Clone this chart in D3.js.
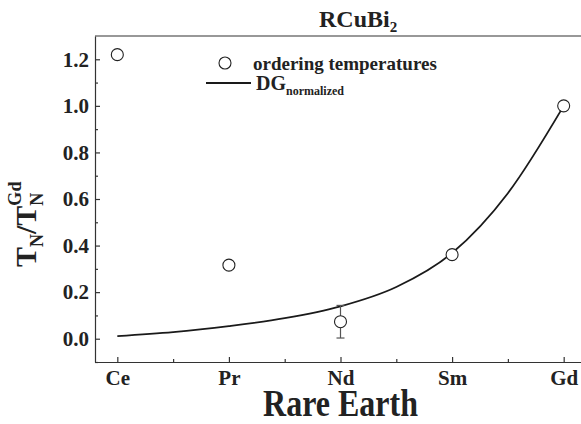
<!DOCTYPE html>
<html>
<head>
<meta charset="utf-8">
<script src="https://cdn.jsdelivr.net/npm/d3@7"></script>
<style>
  body { margin: 0; background: #fff; }
  text { font-family: "Liberation Serif", "Times New Roman", serif; font-weight: bold; fill: #222; }
</style>
</head>
<body>
<svg id="chart" width="581" height="424"></svg>
<script>
const rareEarths = ['Ce', 'Pr', 'Nd', 'Sm', 'Gd'];
const orderingTemps = [1.22, 0.316, 0.073, 0.361, 1.0];
const orderingErrors = [0, 0, 0.07, 0, 0];
const dgIndex = [0, 0.5, 1, 1.5, 2, 2.5, 3, 3.5, 4];
const dgValues = [0.011, 0.028, 0.054, 0.088, 0.139, 0.222, 0.368, 0.625, 1.0];
const yTicks = [0, 0.2, 0.4, 0.6, 0.8, 1.0, 1.2];

const svg = d3.select('#chart');
const axisColor = '#333';

const x = d3.scaleLinear().domain([-0.2, 4.2]).range([95, 586]);
const y = d3.scaleLinear().domain([-0.1, 1.3]).range([362, 36]);

// minor ticks first
svg.append('g')
  .attr('transform', `translate(0,${y.range()[0]})`)
  .call(d3.axisBottom(x).tickValues(d3.range(-0.5, 4.5, 1).filter(d => d > -0.2)).tickSize(-3).tickSizeOuter(0).tickFormat(''))
  .call(g => g.select('.domain').remove());
svg.append('g')
  .attr('transform', `translate(${x.range()[0]},0)`)
  .call(d3.axisLeft(y).tickValues([-0.1, 0.1, 0.3, 0.5, 0.7, 0.9, 1.1]).tickSize(-3).tickSizeOuter(0).tickFormat(''))
  .call(g => g.select('.domain').remove());

const xAxis = svg.append('g')
  .attr('transform', `translate(0,${y.range()[0]})`)
  .call(d3.axisBottom(x).tickValues(d3.range(rareEarths.length)).tickFormat(i => rareEarths[i])
    .tickSize(-5).tickSizeOuter(0).tickPadding(8));
xAxis.selectAll('text').attr('font-size', 21);

const yAxis = svg.append('g')
  .attr('transform', `translate(${x.range()[0]},0)`)
  .call(d3.axisLeft(y).tickValues(yTicks).tickFormat(d3.format('.1f'))
    .tickSize(-5).tickSizeOuter(0).tickPadding(6));
yAxis.selectAll('text').attr('font-size', 21);

svg.selectAll('.tick line, .domain').attr('stroke', axisColor).attr('stroke-width', 1.2);
svg.selectAll('.tick text').attr('fill', '#222').style('font-family', '"Liberation Serif", serif');

// top frame line
svg.append('line')
  .attr('x1', x.range()[0]).attr('x2', x.range()[1])
  .attr('y1', y.range()[1]).attr('y2', y.range()[1])
  .attr('stroke', axisColor).attr('stroke-width', 1.2);

// DG curve
const line = d3.line()
  .x((d, i) => x(dgIndex[i]))
  .y(d => y(d))
  .curve(d3.curveMonotoneX);
svg.append('path')
  .datum(dgValues)
  .attr('d', line)
  .attr('fill', 'none')
  .attr('stroke', '#1a1a1a')
  .attr('stroke-width', 1.8);

// error bars
const errG = svg.append('g').attr('stroke', '#555').attr('stroke-width', 1.2);
orderingTemps.forEach((v, i) => {
  const e = orderingErrors[i];
  if (!e) return;
  const cx = x(i);
  errG.append('line').attr('x1', cx).attr('x2', cx).attr('y1', y(v + e)).attr('y2', y(v - e));
  errG.append('line').attr('x1', cx - 4).attr('x2', cx + 4).attr('y1', y(v + e)).attr('y2', y(v + e));
  errG.append('line').attr('x1', cx - 4).attr('x2', cx + 4).attr('y1', y(v - e)).attr('y2', y(v - e));
});

// ordering temperatures
svg.append('g')
  .selectAll('circle')
  .data(orderingTemps)
  .join('circle')
  .attr('cx', (d, i) => x(i))
  .attr('cy', d => y(d))
  .attr('r', 6)
  .attr('fill', '#fff')
  .attr('stroke', '#222')
  .attr('stroke-width', 1.1);

// legend
svg.append('circle').attr('cx', 225).attr('cy', 63).attr('r', 6)
  .attr('fill', '#fff').attr('stroke', '#222').attr('stroke-width', 1.1);
svg.append('text').attr('x', 253).attr('y', 70).attr('font-size', 19).text('ordering temperatures');
svg.append('line').attr('x1', 206).attr('x2', 251).attr('y1', 83).attr('y2', 83)
  .attr('stroke', '#1a1a1a').attr('stroke-width', 1.8);
const dgText = svg.append('text').attr('x', 256).attr('y', 90).attr('font-size', 20);
dgText.append('tspan').text('DG');
dgText.append('tspan').attr('font-size', 12).attr('dy', 5).text('normalized');

// title
const title = svg.append('text').attr('x', 319).attr('y', 27).attr('font-size', 24);
title.append('tspan').text('RCuBi');
title.append('tspan').attr('font-size', 15).attr('dy', 5).text('2');

// axis labels
svg.append('text')
  .attr('transform', `translate(${(x.range()[0] + x.range()[1]) / 2},416) scale(1,1.2)`)
  .attr('text-anchor', 'middle')
  .attr('font-size', 32)
  .text('Rare Earth');

const yLabel = svg.append('text')
  .attr('transform', 'translate(36,267) rotate(-90)')
  .attr('font-size', 30);
yLabel.append('tspan').text('T');
yLabel.append('tspan').attr('font-size', 18).attr('dy', 7).text('N');
yLabel.append('tspan').attr('dy', -7).text('/T');
yLabel.append('tspan').attr('font-size', 18).attr('dy', 7).text('N');
yLabel.append('tspan').attr('font-size', 18).attr('dx', -13).attr('dy', -22).text('Gd');
</script>
</body>
</html>
